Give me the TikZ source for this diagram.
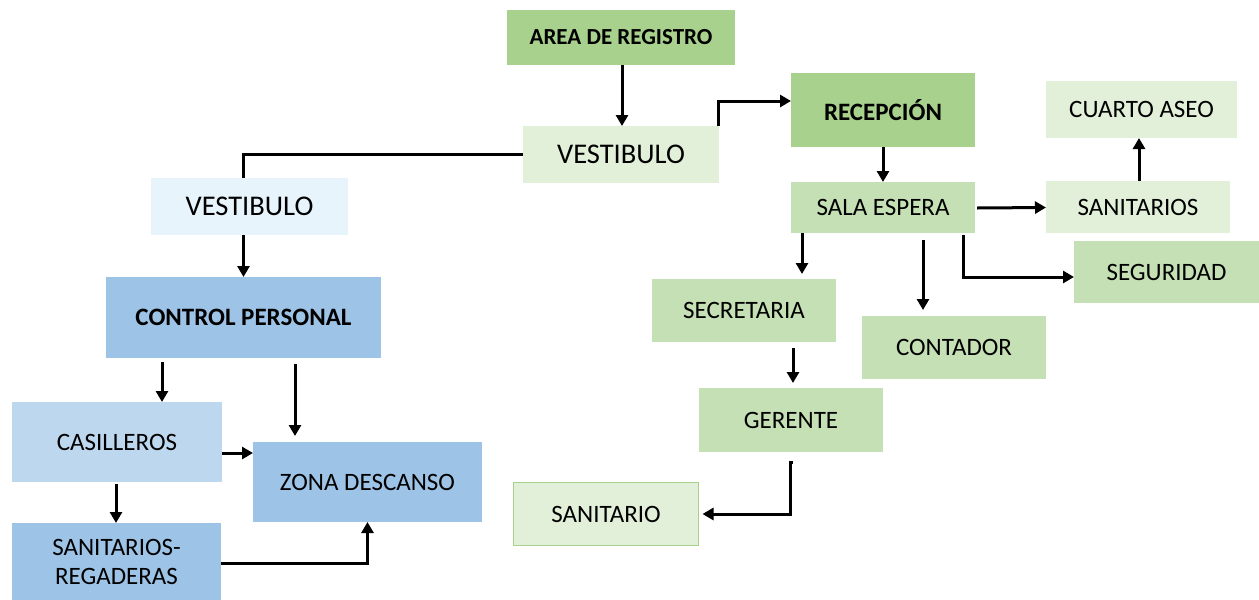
\documentclass[tikz,border=0pt]{standalone}
\usepackage{fontspec}
\setmainfont{Carlito}
\usetikzlibrary{arrows.meta,calc}
\definecolor{gdark}{HTML}{A9D18E}
\definecolor{gmid}{HTML}{C5E0B4}
\definecolor{glight}{HTML}{E2F0D9}
\definecolor{bpale}{HTML}{E8F4FC}
\definecolor{bmid}{HTML}{9DC3E6}
\definecolor{blight}{HTML}{BDD7EE}
\begin{document}
\begin{tikzpicture}[x=1pt,y=-1pt,
  box/.style={draw=none,inner sep=0pt,outer sep=0pt,align=center,font=\fontsize{25}{29}\selectfont},
  boldbox/.style={box,font=\fontsize{25}{29}\selectfont\bfseries},
  bigbox/.style={box,font=\fontsize{28.5}{33}\selectfont},
  conn/.style={line width=3pt,draw=black},
  arr/.style={conn,-{Triangle[length=11pt,width=12pt]}}]
\useasboundingbox (0,0) rectangle (1259,600);
% nodes
\node[boldbox,fill=gdark,minimum width=228,minimum height=55,font=\fontsize{23}{27}\selectfont\bfseries] (area) at (621,37.5) {AREA DE REGISTRO};
\node[bigbox,fill=glight,minimum width=196,minimum height=57] (vtop) at (621,154.5) {VESTIBULO};
\node[boldbox,fill=gdark,minimum width=184,minimum height=74] (recep) at (883,110) {RECEPCIÓN};
\node[box,fill=glight,minimum width=191,minimum height=57] (cuarto) at (1141.5,109.5) {CUARTO ASEO};
\node[box,fill=gmid,minimum width=184,minimum height=51] (sala) at (883,207.5) {SALA ESPERA};
\node[box,fill=glight,minimum width=184,minimum height=52] (sanit) at (1138,207) {SANITARIOS};
\node[box,fill=gmid,minimum width=185,minimum height=62] (segur) at (1166.5,272) {SEGURIDAD};
\node[box,fill=gmid,minimum width=184,minimum height=63] (secre) at (744,310.5) {SECRETARIA};
\node[box,fill=gmid,minimum width=184,minimum height=63] (conta) at (954,347.5) {CONTADOR};
\node[box,fill=gmid,minimum width=184,minimum height=64] (geren) at (791,420) {GERENTE};
\node[box,fill=glight,draw=gdark,line width=1.5pt,minimum width=185,minimum height=63] (sanitario) at (606,514) {SANITARIO};
\node[bigbox,fill=bpale,minimum width=197,minimum height=57] (vleft) at (249.5,206.5) {VESTIBULO};
\node[boldbox,fill=bmid,minimum width=275,minimum height=81] (control) at (243.5,317.5) {CONTROL PERSONAL};
\node[box,fill=blight,minimum width=210,minimum height=80] (casill) at (117,442) {CASILLEROS};
\node[box,fill=bmid,minimum width=229,minimum height=80] (zona) at (367.5,482) {ZONA DESCANSO};
\node[box,fill=bmid,minimum width=209,minimum height=77] (sanreg) at (116.5,561.5) {SANITARIOS-\\REGADERAS};
% helper coordinates
\coordinate (p4) at ([xshift=-6pt]vleft.south);
\coordinate (p5) at ([xshift=-81.5pt,yshift=-4pt]control.south);
\coordinate (p6a) at ([xshift=51.5pt,yshift=-6pt]control.south);
\coordinate (p6b) at ([xshift=-72.5pt,yshift=6pt]zona.north);
\coordinate (p7) at ([yshift=-11pt]casill.east);
\coordinate (p8) at ([xshift=-1pt,yshift=-2pt]casill.south);
\coordinate (p12) at ([xshift=1pt]sanit.north);
\coordinate (p14a) at ([xshift=-81pt]sala.south);
\coordinate (p14b) at ([xshift=58pt,yshift=5pt]secre.north);
\coordinate (p15a) at ([xshift=40pt,yshift=-7pt]sala.south);
\coordinate (p15b) at ([xshift=-31pt,yshift=6pt]conta.north);
\coordinate (p16a) at ([xshift=49pt,yshift=-6pt]secre.south);
\coordinate (p16b) at ([xshift=2pt,yshift=5pt]geren.north);
\coordinate (p17) at ([xshift=-1pt,yshift=-10pt]geren.south);
% connectors
\draw[arr] ([xshift=1pt]area.south) -- ([xshift=1pt]vtop.north);
\draw[arr] ([xshift=-1pt]vtop.north east) |- ([yshift=9pt]recep.west);
\draw[conn] (vtop.west) -| ([xshift=-6pt]vleft.north);
\draw[arr] (p4) -- (p4 |- control.north);
\draw[arr] (p5) -- (p5 |- casill.north);
\draw[arr] (p6a) -- (p6b);
\draw[arr] (p7) -- (p7 -| zona.west);
\draw[arr] (p8) -- (p8 |- sanreg.north);
\draw[arr] ([yshift=-1.5pt]sanreg.east) -| (zona.south);
\draw[arr] (recep.south) -- (sala.north);
\draw[arr] ([xshift=2pt,yshift=-0.5pt]sala.east) -- ([yshift=-0.5pt]sanit.west);
\draw[arr] (p12) -- (p12 |- cuarto.south);
\draw[arr] ([xshift=80pt,yshift=-2pt]sala.south) |- ([yshift=-5pt]segur.west);
\draw[arr] (p14a) -- (p14b);
\draw[arr] (p15a) -- (p15b);
\draw[arr] (p16a) -- (p16b);
\draw[arr] ([xshift=3pt]p17) -- (p17) |- ([xshift=4pt]sanitario.east);
\end{tikzpicture}
\end{document}
